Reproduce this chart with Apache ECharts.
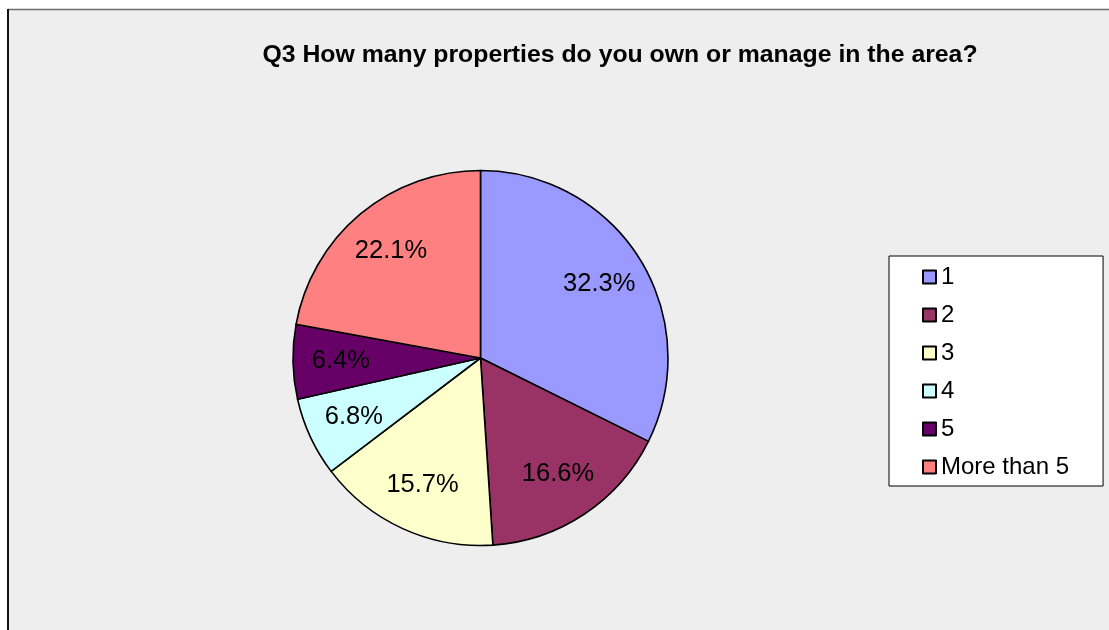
<!DOCTYPE html>
<html>
<head>
<meta charset="utf-8">
<title>Q3 How many properties do you own or manage in the area?</title>
<script src="https://cdn.jsdelivr.net/npm/echarts@6/dist/echarts.min.js"></script>
<style>
  html, body { margin: 0; padding: 0; background: #ffffff; }
  #chart { width: 1109px; height: 630px; }
</style>
</head>
<body>
<div id="chart"></div>
<script>
// Survey answers: share of respondents (%) per number of properties
const titleText = 'Q3 How many properties do you own or manage in the area?';
const categories = ['1', '2', '3', '4', '5', 'More than 5'];
const shares = [32.3, 16.6, 15.7, 6.8, 6.4, 22.1];
const sliceColors = ['#9999FF', '#993366', '#FFFFCC', '#CCFFFF', '#660066', '#FF8080'];

const FONT = "'Liberation Sans', Arial, sans-serif";
const center = [480.5, 358];
const R = 187.5;

const chart = echarts.init(document.getElementById('chart'), null, { renderer: 'canvas' });

chart.setOption({
  backgroundColor: '#ffffff',
  animation: false,
  color: sliceColors,
  graphic: [
    // chart panel
    { type: 'rect', z: -10, silent: true,
      shape: { x: 8, y: 9, width: 1200, height: 700 },
      style: { fill: '#eeeeee' } },
    { type: 'line', z: -9, silent: true,
      shape: { x1: 8, y1: 9.5, x2: 1109, y2: 9.5 },
      style: { stroke: '#6e6e6e', lineWidth: 1.5 } },
    { type: 'line', z: -9, silent: true,
      shape: { x1: 8, y1: 9, x2: 8, y2: 630 },
      style: { stroke: '#111111', lineWidth: 2 } },
    // heading
    { type: 'text', x: 620, y: 55, silent: true,
      style: { text: titleText, fill: '#000', font: 'bold 24.8px ' + FONT,
               textAlign: 'center', textVerticalAlign: 'middle' } }
  ],
  legend: {
    orient: 'vertical',
    left: 889,
    top: 256,
    padding: [9, 34, 7, 33],
    itemGap: 14,
    itemWidth: 13,
    itemHeight: 13,
    backgroundColor: '#ffffff',
    borderColor: '#000000',
    borderWidth: 1,
    icon: 'rect',
    itemStyle: { borderColor: '#000000', borderWidth: 2 },
    textStyle: { fontFamily: FONT, fontSize: 24, lineHeight: 24, color: '#000' },
    data: categories
  },
  series: [
    {
      type: 'pie',
      center: center,
      radius: [0, R],
      startAngle: 90,
      clockwise: true,
      avoidLabelOverlap: false,
      label: { show: false },
      labelLine: { show: false },
      emphasis: { disabled: true },
      itemStyle: { borderColor: '#000000', borderWidth: 1.6 },
      data: categories.map((c, i) => ({ name: c, value: shares[i] }))
    },
    {
      // percentage labels placed at roughly three quarters of the radius
      type: 'pie',
      center: center,
      radius: [86, R],
      startAngle: 90,
      clockwise: true,
      silent: true,
      z: 3,
      avoidLabelOverlap: false,
      labelLine: { show: false },
      itemStyle: { color: 'rgba(0,0,0,0)', borderWidth: 0 },
      emphasis: { disabled: true },
      label: {
        show: true,
        position: 'inside',
        formatter: p => p.value.toFixed(1) + '%',
        fontFamily: FONT,
        fontSize: 25.5,
        color: '#000000'
      },
      data: shares.map(v => ({ name: '', value: v }))
    }
  ]
});
</script>
</body>
</html>
